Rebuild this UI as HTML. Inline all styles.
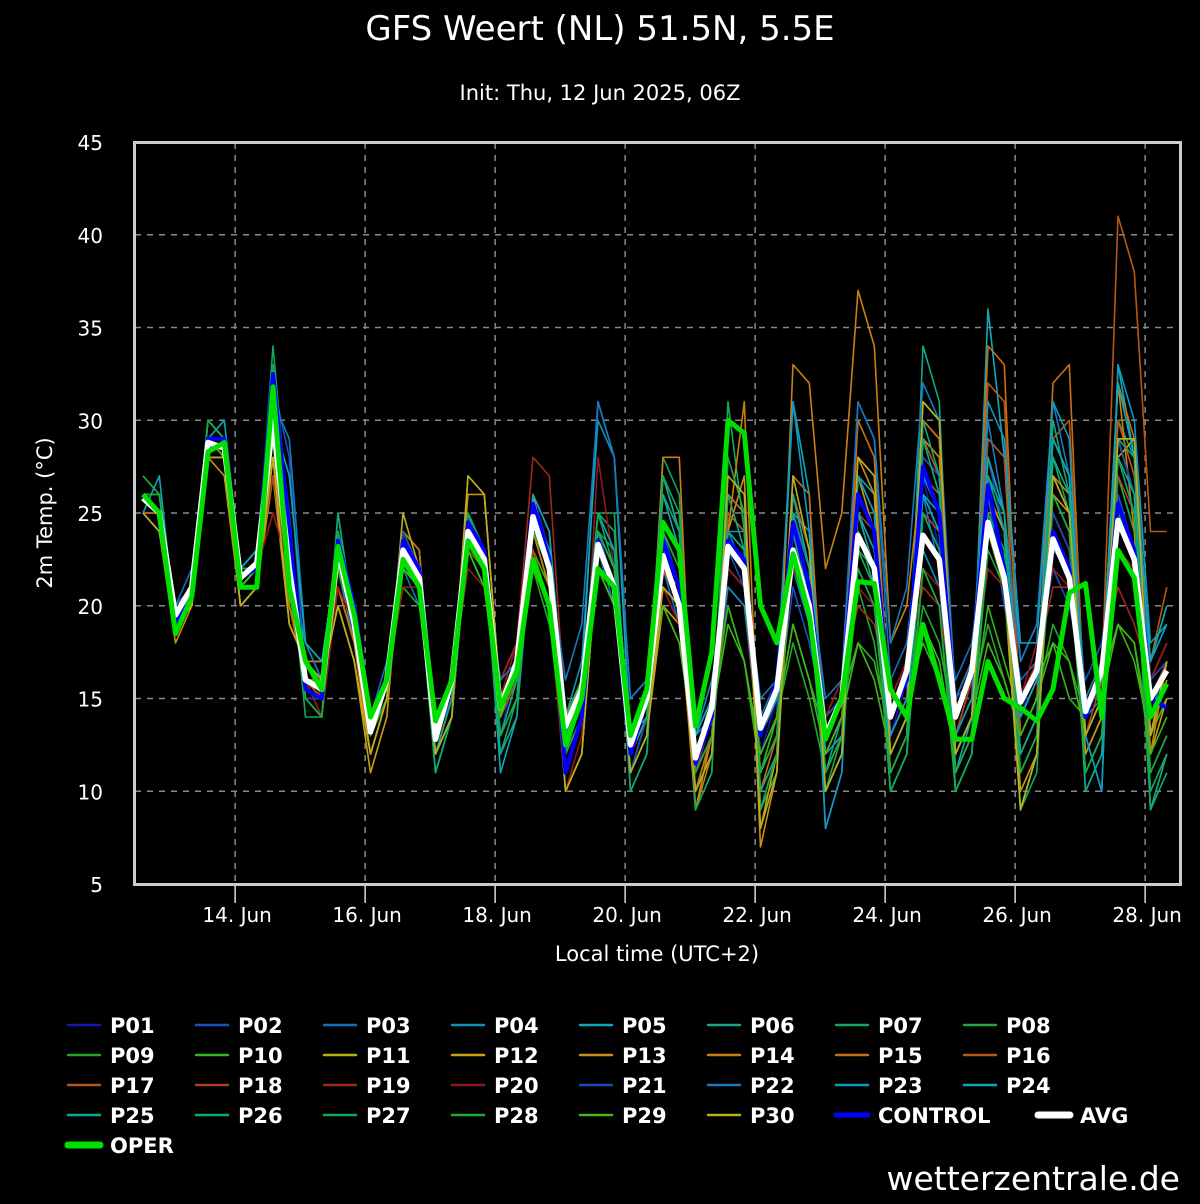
<!DOCTYPE html>
<html><head><meta charset="utf-8">
<style>
html,body{margin:0;padding:0;background:#000;}
body{width:1200px;height:1200px;overflow:hidden;font-family:"DejaVu Sans","Liberation Sans",sans-serif;color:#fff;}
svg text{font-family:"DejaVu Sans","Liberation Sans",sans-serif;fill:#fff;}
</style></head>
<body>
<svg id="chart" width="1200" height="1200" xmlns="http://www.w3.org/2000/svg">
<text x="600" y="40" font-size="34" text-anchor="middle">GFS Weert (NL) 51.5N, 5.5E</text>
<text x="600" y="100" font-size="21" text-anchor="middle">Init: Thu, 12 Jun 2025, 06Z</text>
<text transform="translate(52,513) rotate(-90)" font-size="21" text-anchor="middle">2m Temp. (°C)</text>
<text x="657" y="961" font-size="21" text-anchor="middle">Local time (UTC+2)</text>
<text x="1180" y="1190" font-size="33" text-anchor="end">wetterzentrale.de</text>
<g id="grid"></g>
<defs><clipPath id="plotclip"><rect x="135" y="143" width="1045" height="741"/></clipPath></defs>
<g id="series" clip-path="url(#plotclip)"></g>
<rect x="134.5" y="142.5" width="1046" height="742" fill="none" stroke="#ccc" stroke-width="3"/>
<g id="axes"></g>
<g id="legend"></g>
</svg>
<script>
const yTicks=[5,10,15,20,25,30,35,40,45];
const xTickLabels=["14. Jun","16. Jun","18. Jun","20. Jun","22. Jun","24. Jun","26. Jun","28. Jun"];
const xTickIndex=[5.67,13.67,21.67,29.67,37.67,45.67,53.67,61.67];
const AVG=[25.8,25,19.5,21,28.8,28.5,21.5,22.3,30,22,16,15.5,23,19,13.2,16,23,21.5,12.8,16,24,22.5,14.5,17,24.8,22,13.5,15.5,23.3,21,12.5,15,22.7,20,11.8,14.5,23.2,22,13.4,15.5,23,20,13,15,23.8,22,14,16.5,23.8,22.5,14,16.5,24.5,21.5,14.8,16.5,23.6,21.5,14.3,16.5,24.6,22.5,15,16.5];
const OPER=[26,25,18.5,20.5,28.3,28.8,21,21,31.8,21,17,15.5,23.2,19.5,14,16,22.5,21,13.8,16,23.5,22,14.5,16.5,22.5,20,12.5,15,22,21,13,15.5,24.5,23,13.5,17.5,30,29.3,20,18,22.8,19.5,12.8,15,21.3,21.2,15.5,14,19,16,12.8,12.8,17,15,14.5,13.8,15.5,20.7,21.2,14,23,21.5,14,15.8];
const CONTROL=[26,25,19,21,29,29,21.5,22,32.5,24,15.5,15,23.5,20,14,16,23.5,22,13.5,16,24.5,23,14.5,17,25.5,22.5,11,14,23.5,21,12,15,23.5,21,11.5,14,23.5,22.5,13,16,24.5,21,13,15,26,24,14,16,27.5,25,14,16.5,26.5,22,15,16.5,24,22,14,16.5,25.5,23,15,14.5];
const MEMBERS=[
"26 26 19 21 29 29 22 22 31 23 15 15 23 20 13 16 23 22 13 15 25 23 13 17 26 23 12 15 22 20 11 14 24 21 11 14 22 21 12 15 24 19 13 15 25 23 13 16 27 23 13 16 27 22 14 17 24 22 13 16 26 23 14 15",
"26 25 20 21 30 29 22 23 32 28 16 15 24 20 14 16 23 21 13 16 25 23 15 17 26 24 14 16 24 21 12 14 23 20 10 13 21 20 12 14 21 18 14 15 25 22 15 17 25 23 15 16 26 20 16 17 22 20 16 18 26 23 16 17",
"25 24 20 22 28 28 21 22 30 23 17 16 22 19 14 17 22 20 14 16 23 21 15 17 24 21 14 16 23 20 13 15 22 19 13 15 24 22 14 16 25 22 14 15 31 29 16 18 26 22 16 18 25 22 16 17 23 22 15 17 27 24 16 18",
"25 24 19 21 29 29 22 23 30 22 17 16 22 18 14 16 24 22 14 16 24 22 15 17 24 22 14 17 30 28 15 16 23 20 13 16 21 20 13 16 22 19 12 14 22 20 13 15 23 21 13 15 24 21 13 15 24 22 14 15 29 26 14 17",
"25 25 19 21 28 28 21 22 28 21 18 16 23 20 14 16 23 22 12 15 24 23 11 14 26 22 13 16 31 28 13 15 24 21 11 14 22 21 12 14 31 26 8 11 27 26 12 14 26 25 11 14 36 28 17 19 29 27 13 10 33 28 17 19",
"26 25 19 21 30 29 21 22 31 22 16 15 24 20 13 16 22 21 11 14 24 23 12 14 24 23 12 16 25 24 12 15 27 24 11 13 24 23 11 14 26 22 11 14 24 22 11 13 34 31 11 13 28 25 12 14 29 27 12 14 30 28 9 11",
"27 26 19 21 30 29 21 22 34 24 15 14 25 19 14 16 22 21 11 14 25 23 14 17 25 23 14 16 24 22 11 13 28 26 9 11 31 24 9 11 25 21 11 13 23 21 10 12 25 24 10 12 26 24 9 11 28 25 10 12 29 26 10 12",
"27 26 19 21 30 29 22 22 33 23 15 14 24 20 13 16 22 21 12 14 24 22 13 15 25 23 13 15 25 25 10 12 27 24 12 14 24 23 10 12 24 20 10 13 23 21 10 12 22 20 10 12 24 21 11 13 26 24 11 13 27 24 9 12",
"26 26 19 21 29 29 21 22 28 21 16 16 23 20 14 16 21 20 13 16 23 21 15 17 22 19 14 16 23 21 13 15 20 18 12 15 20 17 12 14 18 15 11 13 21 18 12 14 20 18 13 15 19 16 13 15 19 17 14 16 19 18 13 15",
"26 25 19 20 29 28 21 22 29 21 16 16 22 19 14 16 23 21 13 16 23 22 14 16 23 21 14 16 22 20 12 14 23 20 12 14 20 17 11 14 19 16 13 15 18 17 13 15 18 16 12 14 20 17 14 16 18 15 14 16 19 17 13 15",
"25 25 19 20 28 28 20 21 29 20 17 16 21 18 12 15 23 21 12 14 24 23 15 17 24 21 10 12 23 21 12 14 22 20 10 13 25 24 10 12 23 21 10 12 27 25 11 13 30 29 11 13 24 21 9 12 27 25 12 14 28 29 13 17",
"25 24 19 20 28 28 20 21 28 19 17 16 20 17 11 14 24 23 12 15 27 26 15 17 26 22 10 12 24 22 11 13 20 19 10 13 26 25 8 12 25 22 10 12 27 24 11 13 31 30 12 14 26 24 10 12 26 25 13 15 29 29 12 15",
"25 24 18 20 28 27 20 21 27 19 17 17 20 17 12 15 24 23 12 15 26 26 15 17 25 22 10 12 23 21 11 14 21 20 9 13 24 27 7 11 26 23 11 13 28 26 12 14 29 28 12 14 26 24 9 12 26 24 12 14 29 26 13 16",
"25 25 19 21 28 28 20 21 28 20 17 17 21 18 12 15 24 22 13 15 24 23 15 17 24 21 12 14 23 21 11 13 28 28 9 12 24 31 9 12 33 32 22 25 37 34 18 20 28 27 15 17 25 25 12 14 27 26 14 16 32 24 12 17",
"25 25 19 21 29 28 20 21 28 20 16 16 21 18 12 15 24 23 13 15 24 23 14 17 24 22 11 14 22 21 11 14 21 20 10 13 26 25 10 13 27 26 12 14 30 28 13 15 30 29 12 14 34 33 13 15 32 33 13 15 32 29 16 18",
"25 25 19 21 29 28 21 21 29 21 16 15 22 19 13 15 23 22 13 15 24 22 14 16 25 22 12 14 22 20 12 14 22 21 11 13 25 24 11 13 26 23 13 15 28 27 14 16 29 27 13 15 32 31 14 16 29 30 14 16 41 38 24 24",
"25 25 19 21 29 28 21 22 29 22 16 15 22 19 13 15 22 21 13 15 23 22 14 16 23 20 12 14 22 20 12 14 22 20 11 13 22 21 11 13 25 22 12 14 27 25 14 16 27 26 13 16 29 28 13 15 25 23 13 15 30 27 17 21",
"26 25 19 21 29 28 21 22 27 21 16 14 22 19 13 15 22 21 13 16 23 22 16 18 23 20 12 14 23 21 12 14 21 19 11 14 22 21 12 14 23 20 13 15 25 24 13 15 25 24 13 16 27 25 14 16 24 22 13 16 27 25 15 17",
"26 25 19 21 28 28 22 22 25 22 17 15 22 19 14 16 22 21 14 16 23 22 16 18 28 27 14 16 22 20 13 15 21 19 12 14 22 21 13 15 22 20 14 16 20 19 15 17 21 20 14 16 22 21 15 17 21 21 15 17 21 19 16 18",
"26 25 20 21 28 28 22 22 25 22 16 14 21 19 14 16 21 21 14 16 22 21 15 18 22 20 10 13 28 22 13 15 21 19 12 14 22 21 13 15 22 20 14 16 21 20 15 17 22 21 15 17 22 21 15 18 22 21 15 17 23 22 16 18",
"26 26 19 21 29 29 22 23 32 25 15 15 24 20 13 16 24 22 13 15 25 23 15 17 26 24 11 14 24 21 11 14 24 21 11 13 23 21 12 14 25 21 13 15 27 25 14 16 28 27 12 14 28 24 14 16 25 23 14 16 29 26 16 17",
"26 25 20 21 29 29 22 23 31 29 18 16 23 20 14 16 23 21 14 16 24 22 16 17 25 22 16 19 31 28 15 16 23 20 13 15 23 22 15 16 25 22 15 16 31 29 18 21 32 30 15 17 30 25 17 19 31 27 15 17 28 25 17 20",
"25 24 19 21 29 29 21 22 29 22 18 17 22 19 14 16 23 21 14 16 24 22 15 17 25 23 14 16 24 22 13 14 24 22 13 14 24 24 13 16 31 24 8 11 27 25 13 15 27 25 13 15 31 29 18 18 31 29 13 10 33 30 18 19",
"25 27 19 21 29 30 22 23 30 27 18 17 23 20 14 16 23 21 14 16 24 22 15 17 26 24 14 16 25 23 13 15 26 23 13 15 23 22 13 15 25 24 12 13 25 23 12 14 26 24 12 14 28 25 14 16 29 27 14 16 32 28 17 20",
"26 25 19 21 30 29 22 22 31 23 15 14 24 20 13 16 22 21 12 15 25 23 13 16 25 23 13 16 24 22 12 14 27 24 10 12 24 23 11 13 26 22 11 13 25 22 11 13 29 26 11 13 27 24 12 14 28 26 10 12 28 26 11 13",
"26 25 19 21 30 29 21 22 31 22 15 14 25 19 13 16 23 21 11 14 25 22 12 15 24 23 12 15 24 23 10 12 26 24 10 12 26 23 10 12 25 20 10 12 24 21 10 12 30 27 10 12 27 25 11 13 30 26 11 13 29 28 9 12",
"26 26 19 21 30 29 21 22 33 23 14 14 24 20 13 15 22 21 12 14 25 23 13 15 25 22 12 15 25 22 11 13 27 25 9 11 28 25 9 12 24 21 10 12 23 22 10 12 25 23 10 12 25 23 9 12 26 24 11 13 28 25 10 12",
"26 26 19 21 30 29 22 22 32 22 15 14 23 20 13 15 22 21 12 14 24 22 13 15 24 22 12 14 24 22 11 13 24 22 11 13 23 22 11 13 23 20 11 13 22 20 11 13 22 20 11 13 23 21 11 13 24 22 11 13 25 23 11 13",
"26 25 19 20 29 28 21 22 29 21 16 16 22 19 14 16 22 21 13 16 23 21 14 17 22 20 14 16 22 20 13 15 20 18 12 14 19 17 12 14 19 16 12 14 18 16 12 14 19 17 12 14 18 16 13 15 18 17 13 15 19 18 12 14",
"25 24 19 20 28 28 20 21 28 19 17 16 20 17 12 15 25 22 12 14 27 26 15 17 25 22 10 12 23 21 11 13 21 20 10 12 27 26 8 11 27 23 10 12 28 27 12 14 31 30 12 14 26 22 9 12 27 25 13 15 29 29 13 17"
];
const MEMBER_COLORS=["#1818b0","#1850c0","#1070c0","#1090b8","#10a8b8","#10a888","#10a860","#20a840","#20a828","#30b818","#b8b010","#c8a010","#c89010","#c88010","#c87010","#b85810","#b85818","#b04020","#a02818","#901818","#1848c0","#1878c0","#1098c0","#10a8b0","#10a890","#10a878","#10a858","#20a838","#40b818","#b8b020"];
const NS="http://www.w3.org/2000/svg";
const X0=143, DX=16.25;
function xs(i){return X0+DX*i;}
function ys(v){return 884-(v-5)*(742/40);}
function mk(tag,attrs,parent){const e=document.createElementNS(NS,tag);for(const k in attrs)e.setAttribute(k,attrs[k]);parent.appendChild(e);return e;}
const grid=document.getElementById('grid'),axes=document.getElementById('axes'),ser=document.getElementById('series'),leg=document.getElementById('legend');
yTicks.forEach(v=>{
  if(v>5&&v<45){const l=mk('line',{x1:135,x2:1180,y1:ys(v),y2:ys(v),stroke:'#888','stroke-width':1.5,'stroke-dasharray':'6,6'},grid);
  
  }
  const t=mk('text',{x:103,y:ys(v)+8,'font-size':20,'text-anchor':'end'},axes);t.textContent=v;
  
  
});
xTickIndex.forEach((ix,k)=>{
  const x=xs(ix);
  const l=mk('line',{x1:x,x2:x,y1:143,y2:884,stroke:'#888','stroke-width':1.5,'stroke-dasharray':'6,6'},grid);
  
  
  const tk=mk('line',{x1:x,x2:x,y1:886,y2:903,stroke:'#cde','stroke-width':1.5},axes);
  
  
  const t=mk('text',{x:x+2,y:922,'font-size':20,'text-anchor':'middle'},axes);t.textContent=xTickLabels[k];
  
  
});
function pts(arr){return arr.map((v,i)=>xs(i).toFixed(1)+','+ys(v).toFixed(1)).join(' ');}
MEMBERS.forEach((s,m)=>{
  const arr=s.trim().split(/\s+/).map(Number);
  const p=mk('polyline',{points:pts(arr),fill:'none',stroke:MEMBER_COLORS[m],'stroke-width':1.6,'stroke-linejoin':'round'},ser);
  
  
});
const c=mk('polyline',{points:pts(CONTROL),fill:'none',stroke:'#0000ff','stroke-width':4,'stroke-linejoin':'round'},ser);


const a=mk('polyline',{points:pts(AVG),fill:'none',stroke:'#ffffff','stroke-width':5.5,'stroke-linejoin':'round'},ser);


const o=mk('polyline',{points:pts(OPER),fill:'none',stroke:'#00e000','stroke-width':5,'stroke-linejoin':'round'},ser);


const names=[];for(let i=1;i<=30;i++)names.push('P'+String(i).padStart(2,'0'));
const entries=names.map((n,i)=>({n:n,c:MEMBER_COLORS[i],w:2.5}));
entries.push({n:'CONTROL',c:'#0000ff',w:5});entries.push({n:'AVG',c:'#ffffff',w:7});entries.push({n:'OPER',c:'#00e000',w:7});
entries.forEach((e,i)=>{
  const col=i%8,row=Math.floor(i/8);
  let x=68+col*128;const y=1025+row*30;
  if(e.n==='AVG')x=1038;
  const g=mk('g',{},leg);
  
  
  mk('line',{x1:x,x2:x+32,y1:y,y2:y,stroke:e.c,'stroke-width':e.w,'stroke-linecap':'round'},g);
  const t=mk('text',{x:x+42,y:y+8,'font-size':21,'font-weight':'bold'},g);t.textContent=e.n;
});
</script>
</body></html>
